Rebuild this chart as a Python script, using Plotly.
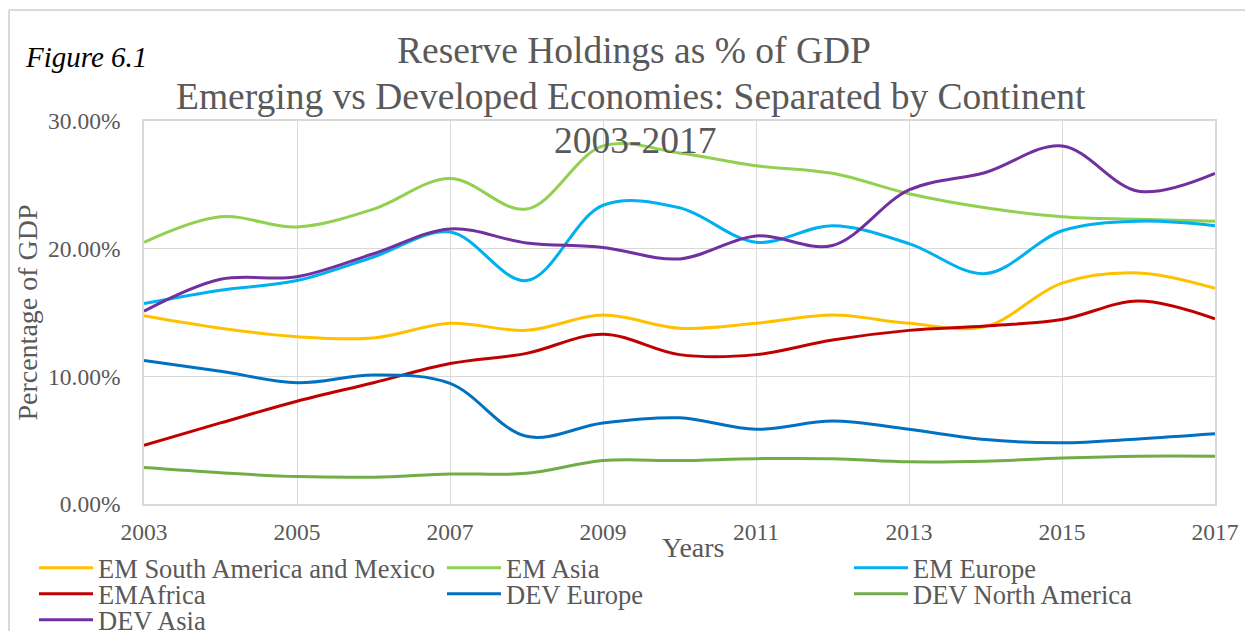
import plotly.graph_objects as go

years = list(range(2003, 2018))

em_south_america = [14.75, 13.77, 13.1, 13.0, 14.15, 13.6, 14.8, 13.77, 14.15, 14.8, 14.15, 13.9, 17.3, 18.1, 16.9]
em_asia = [20.5, 22.5, 21.7, 23.1, 25.5, 23.1, 28.05, 27.5, 26.5, 25.9, 24.3, 23.2, 22.5, 22.3, 22.15]
em_europe = [15.7, 16.75, 17.5, 19.35, 21.3, 17.5, 23.4, 23.2, 20.5, 21.8, 20.4, 18.05, 21.4, 22.15, 21.8]
em_africa = [4.6, 6.35, 8.05, 9.5, 11.0, 11.8, 13.3, 11.7, 11.7, 12.85, 13.6, 13.95, 14.45, 15.9, 14.5]
dev_europe = [11.25, 10.4, 9.5, 10.1, 9.45, 5.3, 6.35, 6.75, 5.85, 6.5, 5.85, 5.05, 4.8, 5.1, 5.5]
dev_north_america = [2.85, 2.45, 2.15, 2.1, 2.35, 2.4, 3.4, 3.4, 3.55, 3.55, 3.3, 3.35, 3.6, 3.75, 3.75]
dev_asia = [15.1, 17.6, 17.8, 19.6, 21.55, 20.45, 20.1, 19.2, 21.0, 20.25, 24.6, 25.97, 28.05, 24.5, 25.9]

series_names = ["EM South America and Mexico", "EM Asia", "EM Europe",
                "EMAfrica", "DEV Europe", "DEV North America", "DEV Asia"]
series_values = [em_south_america, em_asia, em_europe, em_africa,
                 dev_europe, dev_north_america, dev_asia]
series_colors = ["#FFC000", "#92D050", "#00B0F0", "#C00000", "#0070C0", "#70AD47", "#7030A0"]
series_legend = ["legend", "legend", "legend2", "legend3", "legend3", "legend4", "legend5"]

FONT = "Liberation Serif"
GRAY = "#595959"
GRID = "#D9D9D9"

# page offset (browser body margin) and target plot-area pixel geometry
OFF = 8
FW, FH = 1253 - OFF, 631 - OFF
L, R, T, B = 144, 1215, 121, 504
W, H = R - L, B - T


def px(x):
    return (x - L) / W


def py(y):
    return (B - y) / H


fig = go.Figure()
for name, vals, col, lg in zip(series_names, series_values, series_colors, series_legend):
    fig.add_trace(go.Scatter(
        x=years, y=[v / 100 for v in vals], name=name, mode="lines",
        line=dict(color=col, width=3, shape="spline", smoothing=1.0),
        legend=lg,
    ))

legend_common = dict(
    orientation="h", xref="paper", yref="paper", xanchor="left", yanchor="middle",
    font=dict(family=FONT, size=26.5, color=GRAY), bgcolor="rgba(0,0,0,0)",
    entrywidth=339, entrywidthmode="pixels", itemwidth=54, traceorder="normal",
)

fig.update_layout(
    width=FW, height=FH,
    margin=dict(l=L - OFF, r=1253 - R, t=T - OFF, b=631 - B, autoexpand=False),
    paper_bgcolor="white", plot_bgcolor="white",
    font=dict(family=FONT, color=GRAY),
    showlegend=True,
    legend=dict(legend_common, x=px(34), y=py(568)),
    legend2=dict(legend_common, x=px(849), y=py(568)),
    legend3=dict(legend_common, x=px(34), y=py(594)),
    legend4=dict(legend_common, x=px(849), y=py(594)),
    legend5=dict(legend_common, x=px(34), y=py(620)),
    xaxis=dict(
        range=[2003, 2017], tick0=2003, dtick=2, showgrid=True, gridcolor=GRID, gridwidth=1,
        showline=True, linecolor=GRID, linewidth=1.5, mirror=True, ticks="",
        tickfont=dict(family=FONT, size=23.5, color=GRAY), ticklabelstandoff=6,
        zeroline=False,
    ),
    yaxis=dict(
        range=[0, 0.30], dtick=0.10, tickformat=".2%", showgrid=True, gridcolor=GRID, gridwidth=1,
        showline=True, linecolor=GRID, linewidth=1.5, mirror=True, ticks="",
        tickfont=dict(family=FONT, size=23.5, color=GRAY), ticklabelstandoff=17,
        zeroline=False,
        title=dict(text="Percentage of GDP", font=dict(family=FONT, size=28, color=GRAY), standoff=2),
    ),
    annotations=[
        dict(text="Reserve Holdings as % of GDP", x=px(634), y=py(50), xref="paper", yref="paper",
             xanchor="center", yanchor="middle", showarrow=False,
             font=dict(family=FONT, size=37.5, color=GRAY)),
        dict(text="Emerging vs Developed Economies: Separated by Continent", x=px(631), y=py(97),
             xref="paper", yref="paper", xanchor="center", yanchor="middle", showarrow=False,
             font=dict(family=FONT, size=37.5, color=GRAY)),
        dict(text="2003-2017", x=px(635), y=py(140), xref="paper", yref="paper",
             xanchor="center", yanchor="middle", showarrow=False,
             font=dict(family=FONT, size=37.5, color=GRAY)),
        dict(text="<i>Figure 6.1</i>", x=px(23), y=py(57), xref="paper", yref="paper",
             xanchor="left", yanchor="middle", showarrow=False,
             font=dict(family=FONT, size=29, color="black")),
        dict(text="Years", x=px(693), y=py(547), xref="paper", yref="paper",
             xanchor="center", yanchor="middle", showarrow=False,
             font=dict(family=FONT, size=28, color=GRAY)),
    ],
    shapes=[
        dict(type="line", xref="paper", yref="paper", x0=px(9), x1=px(1260), y0=py(10), y1=py(10),
             line=dict(color=GRID, width=2)),
        dict(type="line", xref="paper", yref="paper", x0=px(9), x1=px(9), y0=py(10), y1=py(640),
             line=dict(color=GRID, width=2)),
    ],
)

fig.write_html("out.html")
